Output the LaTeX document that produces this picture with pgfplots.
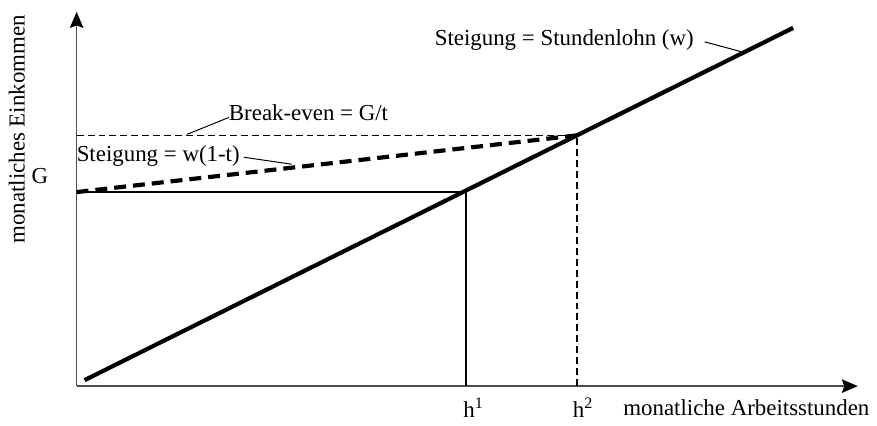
\documentclass[border=0pt]{standalone}
\usepackage{pgfplots}
\pgfplotsset{compat=1.18}
\usepackage{fontspec}
\setmainfont{Liberation Serif}
\usetikzlibrary{arrows.meta}
\begin{document}
\fontsize{11.5}{13}\selectfont
\begin{tikzpicture}
\tikzset{bigarrow/.style={-{Stealth[length=8pt,width=6.8pt,inset=1.2pt,black]}}}
\begin{axis}[
  x=0.5pt, y=0.5pt,
  xmin=0, xmax=785, ymin=0, ymax=376,
  axis lines=none,
  xtick=\empty, ytick=\empty,
  clip=false,
]
% bounding box
\path (axis cs:-77,-37) rectangle (axis cs:800,388);
% axes with arrows
\draw[line width=0.7pt, black!70, bigarrow] (axis cs:0,0) -- (axis cs:785,0);
\draw[line width=0.7pt, black!70, bigarrow] (axis cs:0,0) -- (axis cs:0,376);
% main line: slope = hourly wage
\addplot[line width=2.1pt, black] coordinates {(8,6) (720,360)};
% solid helper lines
\addplot[line width=0.8pt, black] coordinates {(0,195) (391,195) (391,0)};
% dashed helper lines
\addplot[line width=0.7pt, black, dash pattern=on 3.5pt off 2pt] coordinates {(0,252) (503,252) (503,0)};
% thick dashed line w(1-t)
\addplot[line width=2.1pt, black, dash pattern=on 6pt off 3.5pt] coordinates {(0,195) (503,252)};
% pointer lines
\addplot[line width=0.5pt, black] coordinates {(631,346) (668,336)};
\addplot[line width=0.5pt, black] coordinates {(111,253) (153,270)};
\addplot[line width=0.5pt, black] coordinates {(168,230) (216,223)};
% labels
\node at (axis cs:490,348) {Steigung = Stundenlohn (w)};
\node at (axis cs:233,275) {Break-even = G/t};
\node at (axis cs:82,231) {Steigung = w(1-t)};
\node at (axis cs:-37,211) {G};
\node at (axis cs:399,-22) {h\textsuperscript{1}};
\node at (axis cs:509,-22) {h\textsuperscript{2}};
\node at (axis cs:673,-22) {monatliche Arbeitsstunden};
\node[rotate=90] at (axis cs:-60,258) {monatliches Einkommen};
\end{axis}
\end{tikzpicture}
\end{document}
